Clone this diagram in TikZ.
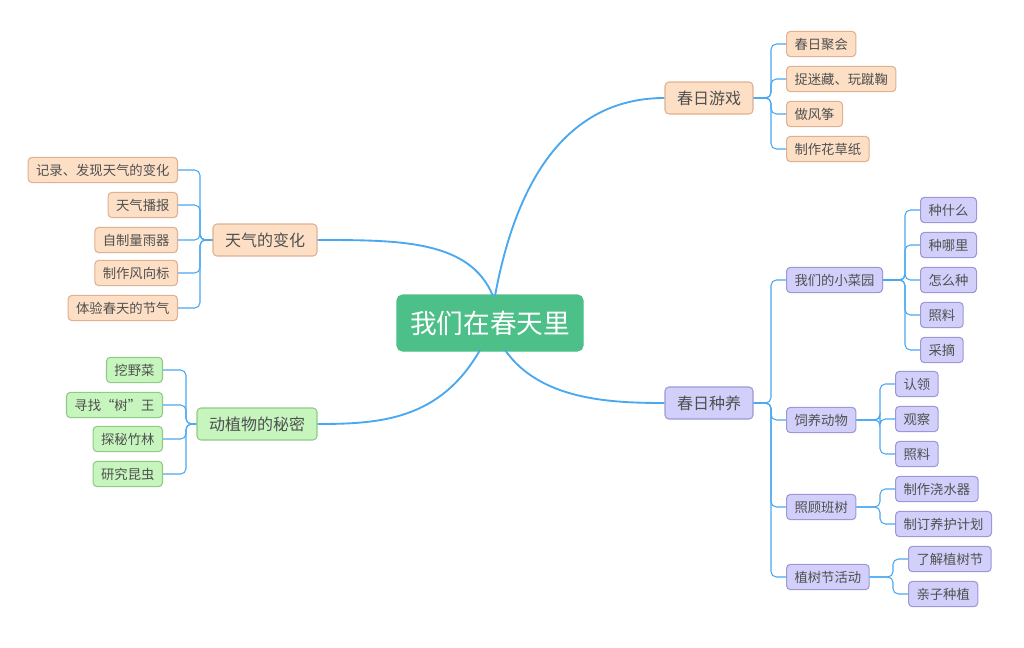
\documentclass[tikz,border=0pt]{standalone}
\usepackage{fontspec}
\newfontfamily\cjk{Noto Sans CJK SC}
\usetikzlibrary{positioning}
\definecolor{peach}{HTML}{FDDFC6}
\definecolor{peachd}{HTML}{E0B090}
\definecolor{leaf}{HTML}{C6F5BE}
\definecolor{leafd}{HTML}{8FCB85}
\definecolor{lav}{HTML}{D2D0FA}
\definecolor{lavd}{HTML}{9C98D8}
\definecolor{core}{HTML}{4DBF88}
\definecolor{wire}{HTML}{4AA8F0}
\definecolor{ink}{HTML}{505050}
\tikzstyle{box}=[draw, rounded corners=3pt, text=ink, font=\cjk\fontsize{10}{12}\selectfont, minimum height=19pt, inner xsep=6pt]
\tikzstyle{topic}=[box, font=\cjk\fontsize{12}{14}\selectfont, minimum height=24pt, inner xsep=9pt]
\begin{document}
\begin{tikzpicture}[x=0.75pt, y=-0.75pt, thick,
	pc/.style = {box, fill=peach, draw=peachd},
	gc/.style = {box, fill=leaf, draw=leafd},
	lc/.style = {box, fill=lav, draw=lavd},
	br/.style = {draw=wire, line width=0.8pt, rounded corners=4pt},
	main/.style = {draw=wire, line width=1.4pt}]

	\useasboundingbox (0,0) rectangle (1024,647);

	\node[draw=core, fill=core, rounded corners=4pt, text=white, minimum width=186*0.75pt, minimum height=56*0.75pt,
	font=\cjk\fontsize{20}{24}\selectfont] (root) at (490,323) {我们在春天里};

	\node[topic, fill=peach, draw=peachd] (game) at (709,98) {春日游戏};
	\node[topic, fill=peach, draw=peachd] (sky) at (265,240) {天气的变化};
	\node[topic, fill=leaf, draw=leafd] (life) at (257,424) {动植物的秘密};
	\node[topic, fill=lav, draw=lavd] (grow) at (709,403) {春日种养};

	% main branches
	\draw[main] (495,296) .. controls (520,160) and (580,98) .. (game.west);
	\draw[main] (493,296) .. controls (470,240) and (400,240) .. (sky.east);
	\draw[main] (480,350) .. controls (440,420) and (380,424) .. (life.east);
	\draw[main] (505,350) .. controls (540,400) and (610,403) .. (grow.west);

	% spring games
	\foreach \n/\y/\t in {g1/44/春日聚会, g2/79/捉迷藏、玩蹴鞠, g3/114/做风筝, g4/149/制作花草纸}{
		\node[pc, anchor=west] (\n) at (786,\y) {\t};
		\draw[br] (game.east) -- (771,98) |- (\n.west);
	}

	% weather
	\foreach \n/\y/\t in {s1/170/记录、发现天气的变化, s2/205/天气播报, s3/240/自制量雨器, s4/273/制作风向标, s5/308/体验春天的节气}{
		\node[pc, anchor=east] (\n) at (178,\y) {\t};
		\draw[br] (sky.west) -- (200,240) |- (\n.east);
	}

	% plants and animals
	\foreach \n/\y/\t in {l1/370/挖野菜, l2/405/寻找“树”王, l3/439/探秘竹林, l4/474/研究昆虫}{
		\node[gc, anchor=east] (\n) at (163,\y) {\t};
		\draw[br] (life.west) -- (186,424) |- (\n.east);
	}

	% planting
	\foreach \n/\y/\t in {v1/280/我们的小菜园, v2/420/饲养动物, v3/507/照顾班树, v4/577/植树节活动}{
		\node[lc, anchor=west] (\n) at (786,\y) {\t};
		\draw[br] (grow.east) -- (771,403) |- (\n.west);
	}
	\foreach \n/\y/\t in {a1/210/种什么, a2/245/种哪里, a3/280/怎么种, a4/315/照料, a5/350/采摘}{
		\node[lc, anchor=west] (\n) at (920,\y) {\t};
		\draw[br] (v1.east) -- (905,280) |- (\n.west);
	}
	\foreach \n/\y/\t in {b1/384/认领, b2/419/观察, b3/454/照料}{
		\node[lc, anchor=west] (\n) at (895,\y) {\t};
		\draw[br] (v2.east) -- (880,420) |- (\n.west);
	}
	\foreach \n/\y/\t in {c1/489/制作浇水器, c2/524/制订养护计划}{
		\node[lc, anchor=west] (\n) at (895,\y) {\t};
		\draw[br] (v3.east) -- (880,507) |- (\n.west);
	}
	\foreach \n/\y/\t in {d1/559/了解植树节, d2/594/亲子种植}{
		\node[lc, anchor=west] (\n) at (908,\y) {\t};
		\draw[br] (v4.east) -- (893,577) |- (\n.west);
	}
\end{tikzpicture}
\end{document}
